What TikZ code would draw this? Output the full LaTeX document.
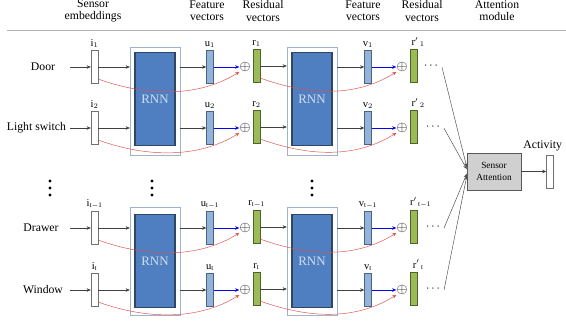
\documentclass[tikz,border=0pt]{standalone}
\usepackage{fontspec}
\setmainfont{Liberation Serif}
\usetikzlibrary{positioning,arrows.meta}
\definecolor{embedge}{HTML}{707070}
\definecolor{featfill}{HTML}{95B3D7}
\definecolor{featedge}{HTML}{46648A}
\definecolor{resfill}{HTML}{9BBB59}
\definecolor{resedge}{HTML}{4F6228}
\definecolor{rnnedge}{HTML}{9DB3CC}
\definecolor{rnnfill}{HTML}{4F7FC0}
\definecolor{rnndark}{HTML}{2E4766}
\definecolor{rnntext}{HTML}{D2DEEE}
\definecolor{skipred}{HTML}{E0504A}
\definecolor{attfill}{HTML}{D0D0D0}
\begin{document}
\begin{tikzpicture}[x=0.03cm, y=-0.03cm, font=\fontsize{10}{11}\selectfont,
  vec/.style={draw, minimum width=0.21cm, minimum height=0.99cm, inner sep=0pt},
  emb/.style={vec, fill=white, draw=embedge},
  feat/.style={vec, fill=featfill, draw=featedge},
  res/.style={vec, fill=resfill, draw=resedge},
  rnnbox/.style={draw=rnnedge, fill=white, minimum width=1.5cm, minimum height=3.24cm, inner sep=0pt},
  rnncore/.style={draw=rnndark, fill=rnnfill, line width=0.9pt, minimum width=1.2cm, minimum height=2.79cm, inner sep=0pt, text=rnntext, font=\fontsize{11}{12}\selectfont},
  head/.style={align=center, font=\fontsize{10}{10.5}\selectfont},
  lbl/.style={inner sep=0pt, font=\fontsize{9}{10}\selectfont},
  plus/.style={inner sep=0pt, font=\fontsize{12}{12}\selectfont},
  fwd/.style={-{Stealth[length=3.5pt,width=3pt]}, black!75},
  add/.style={-{Stealth[length=3.5pt,width=3pt]}, blue},
  skip/.style={-{Stealth[length=3.5pt,width=3pt]}, skipred},
  gather/.style={-{Stealth[length=3.5pt,width=3pt]}, black!70},
]
\useasboundingbox (0,0) rectangle (566,332);
% headers
\node[head] (h_emb) at (93,11) {Sensor\\embeddings};
\node[head] (h_featA) at (207,11) {Feature\\vectors};
\node[head] (h_resA) at (263,11) {Residual\\vectors};
\node[head] (h_featB) at (363,11) {Feature\\vectors};
\node[head] (h_resB) at (422,11) {Residual\\vectors};
\node[head] (h_att) at (497,11) {Attention\\module};
\draw[gray!60] (7,30) -- (566,30);
% RNN blocks
\node[rnnbox] (rnnA) at (155,101) {};
\node[rnncore] (rnnA_c) at (155,99) {RNN};
\node[rnnbox] (rnnB) at (312,101) {};
\node[rnncore] (rnnB_c) at (312,99) {RNN};
\node[rnnbox] (rnnC) at (155,261) {};
\node[rnncore] (rnnC_c) at (155,261) {RNN};
\node[rnnbox] (rnnD) at (312,261) {};
\node[rnncore] (rnnD_c) at (312,261) {RNN};
% attention module
\node[draw=black!65, fill=attfill, minimum width=1.62cm, minimum height=1.11cm, align=center,
  font=\fontsize{8}{10}\selectfont] (att) at (494,171.5) {Sensor\\Attention};
\node[emb] (act) at (550,171.5) {};
\node[anchor=east] (act_l) at (566,146) {Activity};
\draw[fwd] (att) -- (act);
% row 1
\node (src_1) at (43,67) {Door};
\coordinate (in_1) at (70,67);
\node[emb] (i_1) at (94.5,67) {};
\node[lbl, above=2pt of i_1] (li_1) {$\mathrm{i}_1$};
\node[feat] (u_1) at (210,67) {};
\node[lbl, above=2pt of u_1] (lu_1) {$\mathrm{u}_1$};
\node[plus] (p_1) at (245,67) {$\oplus$};
\node[res] (r_1) at (256.5,66) {};
\node[lbl, above=2pt of r_1] (lr_1) {$\mathrm{r}_1$};
\node[feat] (v_1) at (368,67) {};
\node[lbl, above=2pt of v_1] (lv_1) {$\mathrm{v}_1$};
\node[plus] (q_1) at (402,67) {$\oplus$};
\node[res] (rr_1) at (413.5,66) {};
\node[lbl, above=2pt of rr_1, xshift=4pt] (lrr_1) {$\mathrm{r'}_{\,1}$};
\node (d_1) at (431,66) {$\cdots$};
\draw[fwd] (in_1) -- (i_1);
\draw[fwd] (i_1) -- (i_1 -| rnnA.west);
\draw[fwd] (u_1 -| rnnA.east) -- (u_1);
\draw[add] (u_1) -- (p_1);
\draw[skip] ([yshift=4pt]i_1.south east) .. controls +(50,18) and +(-40,25) .. (p_1.south west);
\draw[fwd] (r_1) -- (r_1 -| rnnB.west);
\draw[fwd] (v_1 -| rnnB.east) -- (v_1);
\draw[add] (v_1) -- (q_1);
\draw[skip] ([yshift=4pt]r_1.south east) .. controls +(50,18) and +(-40,25) .. (q_1.south west);
\draw[gather] ([yshift=-1pt]d_1.east) -- ([yshift=3.8pt]att.west);
% row 2
\node[anchor=east] (src_2) at (70,128) {Light switch};
\node[emb] (i_2) at (94.5,128) {};
\node[lbl, above=2pt of i_2] (li_2) {$\mathrm{i}_2$};
\node[feat] (u_2) at (210,128) {};
\node[lbl, above=2pt of u_2] (lu_2) {$\mathrm{u}_2$};
\node[plus] (p_2) at (245,128) {$\oplus$};
\node[res] (r_2) at (256.5,127) {};
\node[lbl, above=2pt of r_2] (lr_2) {$\mathrm{r}_2$};
\node[feat] (v_2) at (368,128) {};
\node[lbl, above=2pt of v_2] (lv_2) {$\mathrm{v}_2$};
\node[plus] (q_2) at (402,128) {$\oplus$};
\node[res] (rr_2) at (413.5,127) {};
\node[lbl, above=2pt of rr_2, xshift=4pt] (lrr_2) {$\mathrm{r'}_{\,2}$};
\node (d_2) at (433,127) {$\cdots$};
\draw[fwd] (src_2) -- (i_2);
\draw[fwd] (i_2) -- (i_2 -| rnnA.west);
\draw[fwd] (u_2 -| rnnA.east) -- (u_2);
\draw[add] (u_2) -- (p_2);
\draw[skip] ([yshift=4pt]i_2.south east) .. controls +(50,18) and +(-40,25) .. (p_2.south west);
\draw[fwd] (r_2) -- (r_2 -| rnnB.west);
\draw[fwd] (v_2 -| rnnB.east) -- (v_2);
\draw[add] (v_2) -- (q_2);
\draw[skip] ([yshift=4pt]r_2.south east) .. controls +(50,18) and +(-40,25) .. (q_2.south west);
\draw[gather] ([yshift=-1pt]d_2.east) -- ([yshift=2pt]att.west);
% vertical dots
\foreach \x in {50,152,312}
  \foreach \y in {181,188,195}
    \fill (\x,\y) circle[radius=1.3pt];
% row t-1
\node (src_3) at (41,228) {Drawer};
\coordinate (in_3) at (70,228);
\node[emb] (i_3) at (94.5,228) {};
\node[lbl, above=2pt of i_3] (li_3) {$\mathrm{i}_{\mathrm{t-1}}$};
\node[feat] (u_3) at (210,228) {};
\node[lbl, above=2pt of u_3] (lu_3) {$\mathrm{u}_{\mathrm{t-1}}$};
\node[plus] (p_3) at (245,228) {$\oplus$};
\node[res] (r_3) at (256.5,227) {};
\node[lbl, above=2pt of r_3] (lr_3) {$\mathrm{r}_{\mathrm{t-1}}$};
\node[feat] (v_3) at (368,228) {};
\node[lbl, above=2pt of v_3] (lv_3) {$\mathrm{v}_{\mathrm{t-1}}$};
\node[plus] (q_3) at (402,228) {$\oplus$};
\node[res] (rr_3) at (413.5,227) {};
\node[lbl, above=2pt of rr_3, xshift=6pt] (lrr_3) {$\mathrm{r'}_{\,\mathrm{t-1}}$};
\node (d_3) at (433,227) {$\cdots$};
\draw[fwd] (in_3) -- (i_3);
\draw[fwd] (i_3) -- (i_3 -| rnnC.west);
\draw[fwd] (u_3 -| rnnC.east) -- (u_3);
\draw[add] (u_3) -- (p_3);
\draw[skip] ([yshift=4pt]i_3.south east) .. controls +(50,18) and +(-40,25) .. (p_3.south west);
\draw[fwd] (r_3) -- (r_3 -| rnnD.west);
\draw[fwd] (v_3 -| rnnD.east) -- (v_3);
\draw[add] (v_3) -- (q_3);
\draw[skip] ([yshift=4pt]r_3.south east) .. controls +(50,18) and +(-40,25) .. (q_3.south west);
\draw[gather] ([yshift=-1pt]d_3.east) -- ([yshift=-2pt]att.west);
% row t
\node (src_4) at (43,290) {Window};
\coordinate (in_4) at (70,290);
\node[emb] (i_4) at (94.5,290) {};
\node[lbl, above=2pt of i_4] (li_4) {$\mathrm{i}_\mathrm{t}$};
\node[feat] (u_4) at (210,290) {};
\node[lbl, above=2pt of u_4] (lu_4) {$\mathrm{u}_\mathrm{t}$};
\node[plus] (p_4) at (245,290) {$\oplus$};
\node[res] (r_4) at (256.5,289) {};
\node[lbl, above=2pt of r_4] (lr_4) {$\mathrm{r}_\mathrm{t}$};
\node[feat] (v_4) at (368,290) {};
\node[lbl, above=2pt of v_4] (lv_4) {$\mathrm{v}_\mathrm{t}$};
\node[plus] (q_4) at (402,290) {$\oplus$};
\node[res] (rr_4) at (413.5,289) {};
\node[lbl, above=2pt of rr_4, xshift=4pt] (lrr_4) {$\mathrm{r'}_{\,\mathrm{t}}$};
\node (d_4) at (433,289) {$\cdots$};
\draw[fwd] (in_4) -- (i_4);
\draw[fwd] (i_4) -- (i_4 -| rnnC.west);
\draw[fwd] (u_4 -| rnnC.east) -- (u_4);
\draw[add] (u_4) -- (p_4);
\draw[skip] ([yshift=4pt]i_4.south east) .. controls +(50,18) and +(-40,25) .. (p_4.south west);
\draw[fwd] (r_4) -- (r_4 -| rnnD.west);
\draw[fwd] (v_4 -| rnnD.east) -- (v_4);
\draw[add] (v_4) -- (q_4);
\draw[skip] ([yshift=4pt]r_4.south east) .. controls +(50,18) and +(-40,25) .. (q_4.south west);
\draw[gather] ([yshift=-1pt]d_4.east) -- ([yshift=-3.8pt]att.west);
\end{tikzpicture}
\end{document}
